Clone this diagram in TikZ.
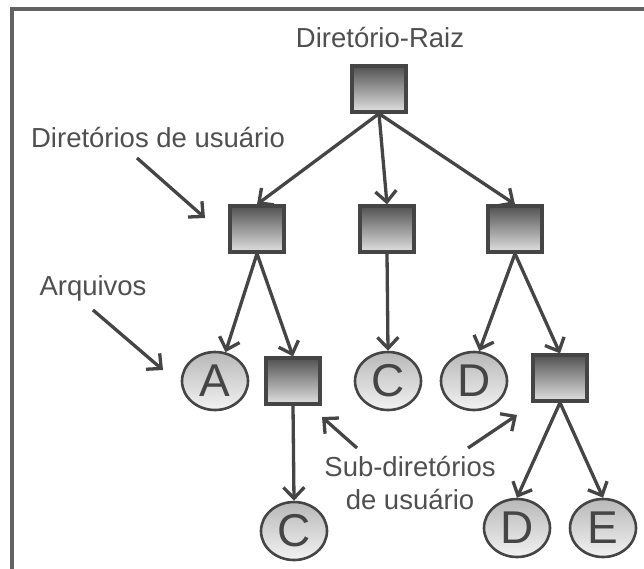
\documentclass[tikz,border=0pt]{standalone}
\usepackage{fontspec}
\setmainfont{Liberation Sans}
\usetikzlibrary{arrows.meta,shapes.geometric}
\definecolor{ink}{HTML}{454545}
\definecolor{txt}{HTML}{4F4F4F}
\definecolor{frm}{HTML}{626262}
\tikzset{
  >={Straight Barb[length=11pt,width=21pt]},
  dir/.style={draw=ink,line width=3.2pt,rectangle,minimum width=54pt,minimum height=46pt,inner sep=0pt,top color=black!68,bottom color=black!12},
  fil/.style={draw=ink,line width=2.6pt,ellipse,minimum width=66pt,minimum height=58pt,inner sep=0pt,top color=black!28,bottom color=black!5,text=ink,font=\fontsize{46}{46}\selectfont},
  lab/.style={text=txt,font=\fontsize{27.5}{33}\selectfont,align=center},
  arr/.style={->,draw=ink,line width=3.3pt},
}
\begin{document}
\begin{tikzpicture}[x=1pt,y=-1pt]
\useasboundingbox (0,0) rectangle (644,568);
\draw[frm,line width=3.5pt] (12,9) rectangle (700,620);
% tree
\node[lab] (traiz) at (380,38) {Diretório-Raiz};
\node[dir] (raiz) at (379,89) {};
\node[dir] (u1) at (257,229) {};
\node[dir] (u2) at (387,229) {};
\node[dir] (u3) at (515,229) {};
\node[fil] (a1) at (215,381) {A};
\node[dir] (s1) at (293,381) {};
\node[fil] (c1) at (388,381) {C};
\node[fil] (d1) at (474,381) {D};
\node[dir] (s2) at (560,378) {};
\node[fil] (c2) at (294,531) {C};
\node[fil] (d2) at (517,528) {D};
\node[fil] (e2) at (603,528) {E};
\draw[arr] (raiz.south) -- (u1.north);
\draw[arr] (raiz.south) -- (u2.north);
\draw[arr] (raiz.south) -- (u3.north);
\draw[arr] (u1.south) -- (a1.70);
\draw[arr] (u1.south) -- (s1.north);
\draw[arr] (u2.south) -- (c1.north);
\draw[arr] (u3.south) -- (d1.80);
\draw[arr] (u3.south) -- (s2.north);
\draw[arr] (s1.south) -- (c2.north);
\draw[arr] (s2.south) -- (d2.north);
\draw[arr] (s2.south) -- (e2.north);
% labels
\node[lab] (tusr) at (158,138) {Diretórios de usuário};
\node[lab] (tarq) at (93,288) {Arquivos};
\node[lab] (tsub) at (410,483) {Sub-diretórios\\de usuário};
\coordinate (pusr) at (137,158);
\coordinate (qusr) at (205,218);
\coordinate (parq) at (93,310);
\coordinate (qarq) at (163,370);
\coordinate (psub1) at (357,448);
\coordinate (qsub1) at (322,417);
\coordinate (psub2) at (468,448);
\coordinate (qsub2) at (517,415);
\draw[arr] (pusr) -- (qusr);
\draw[arr] (parq) -- (qarq);
\draw[arr] (psub1) -- (qsub1);
\draw[arr] (psub2) -- (qsub2);
\end{tikzpicture}
\end{document}
